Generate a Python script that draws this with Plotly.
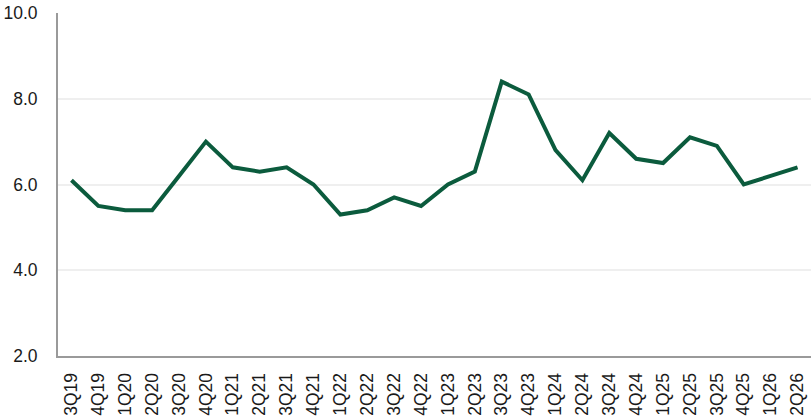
import plotly.graph_objects as go

quarters = ["3Q19", "4Q19", "1Q20", "2Q20", "3Q20", "4Q20", "1Q21", "2Q21", "3Q21", "4Q21",
            "1Q22", "2Q22", "3Q22", "4Q22", "1Q23", "2Q23", "3Q23", "4Q23", "1Q24", "2Q24",
            "3Q24", "4Q24", "1Q25", "2Q25", "3Q25", "4Q25", "1Q26", "2Q26"]
values = [6.1, 5.5, 5.4, 5.4, 6.2, 7.0, 6.4, 6.3, 6.4, 6.0,
          5.3, 5.4, 5.7, 5.5, 6.0, 6.3, 8.4, 8.1, 6.8, 6.1,
          7.2, 6.6, 6.5, 7.1, 6.9, 6.0, 6.2, 6.4]
y_ticks = [2.0, 4.0, 6.0, 8.0, 10.0]

fig = go.Figure()
fig.add_trace(go.Scatter(
    x=quarters, y=values, mode="lines",
    line=dict(color="#0b5b3d", width=4),
    hoverinfo="skip",
))

font = dict(family="Liberation Sans, Arial, sans-serif", size=17.5, color="#1a1a1a")
fig.update_layout(
    width=811, height=418,
    margin=dict(l=58, r=0, t=13, b=62),
    paper_bgcolor="white", plot_bgcolor="white",
    showlegend=False,
    font=font,
)
fig.update_xaxes(
    type="category",
    range=[-0.5, len(quarters) - 0.5],
    tickangle=-90,
    showgrid=False,
    showline=True, linecolor="#9a9a9a", linewidth=2,
    ticks="", ticklabelstandoff=8,
    tickfont=font,
)
fig.update_yaxes(
    range=[2, 10],
    tickvals=y_ticks, tickformat=".1f",
    showgrid=True, gridcolor="#efefef", gridwidth=1.5,
    showline=True, linecolor="#9a9a9a", linewidth=2,
    zeroline=False,
    ticks="", ticklabelstandoff=15,
    tickfont=font,
)

fig.write_html("out.html")
